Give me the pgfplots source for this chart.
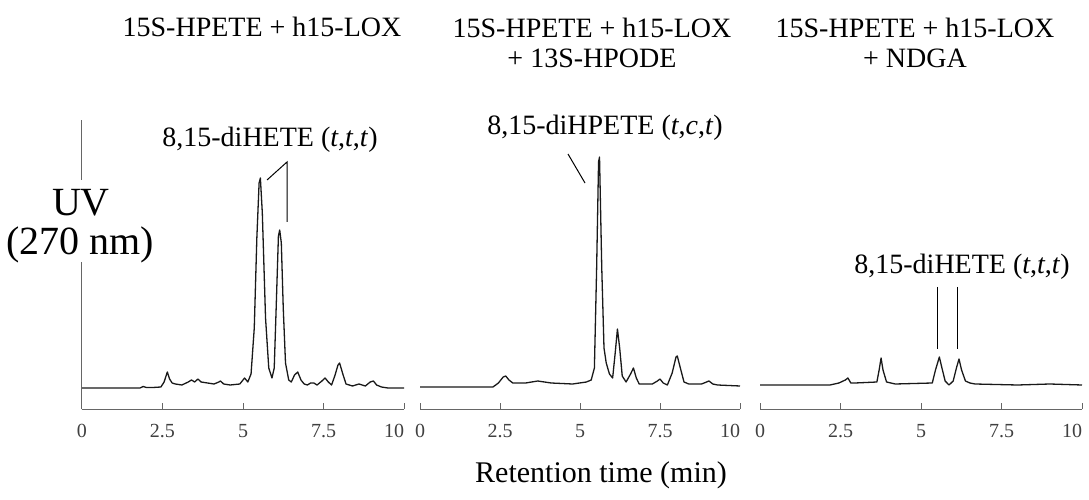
\documentclass[border=0pt]{standalone}
\usepackage{fontspec}
\setmainfont{Liberation Serif}
\usepackage{pgfplots}
\pgfplotsset{compat=1.18}

\pgfplotsset{
  chrom/.style={
    scale only axis, anchor=south west,
    height=144.5pt,
    xmin=0, xmax=10, ymin=-21, ymax=268,
    axis x line*=bottom, axis y line=none,
    clip=false,
    xtick={0,2.5,5,7.5,10},
    xticklabels={0,2.5,5,7.5,\llap{10}\hspace{6pt}},
    ytick=\empty,
    tick align=inside,
    major tick length=3pt,
    axis line style={black!60, line width=0.5pt},
    tick style={black!60, line width=0.5pt},
    xticklabel style={font=\fontsize{10}{11}\selectfont, text=black!75, yshift=-4pt},
    /pgf/number format/assume math mode=true,
  },
  trace/.style={black!90, line width=0.65pt, mark=none, line join=round},
}

\pgfplotstableread{
t v
0 0
1.8 0
1.9 1.5
2.0 0.5
2.2 0.5
2.45 1
2.55 6
2.65 16
2.72 9
2.8 5
2.9 4
3.1 3
3.3 6
3.4 8
3.5 6
3.6 9
3.7 6
3.9 5
4.1 4
4.25 6
4.3 7
4.4 4
4.6 3
4.9 4
5.0 8
5.05 10
5.15 6
5.25 14
5.35 60
5.43 150
5.5 205
5.54 210
5.6 175
5.7 70
5.8 20
5.9 10
5.97 20
6.03 80
6.1 152
6.14 158
6.19 145
6.25 80
6.32 25
6.42 8
6.5 6
6.6 13
6.7 16
6.8 8
6.9 4
7.0 3
7.1 5
7.2 5
7.3 3
7.45 7
7.55 10
7.65 6
7.75 3
7.85 12
7.95 23
8.0 25
8.1 14
8.2 4
8.4 2
8.6 4
8.7 3
8.8 2
8.95 6
9.05 7
9.15 3
9.3 1
9.5 0
10 0
}\tracea

\pgfplotstableread{
t v
0 1
2.28 1
2.45 5
2.6 11
2.68 12
2.78 8
2.9 5
3.3 5
3.68 7
4.1 5
4.77 4
5.2 6
5.35 8
5.45 20
5.52 120
5.58 226
5.61 231
5.68 120
5.75 40
5.82 25
5.92 14
6.02 10
6.1 35
6.17 59
6.24 40
6.32 12
6.44 6
6.58 14
6.67 20
6.76 10
6.85 4
7.26 4
7.42 7
7.5 9
7.6 5
7.73 3
7.88 15
8.0 31
8.04 32
8.12 22
8.25 6
8.4 4
8.8 4
9.03 7
9.15 4
9.3 3
10 2
}\traceb

\pgfplotstableread{
t v
0 3
2.17 3
2.45 5
2.65 8
2.73 10
2.82 5
2.95 5
3.63 6
3.7 18
3.76 30
3.82 18
3.93 6
4.2 4
5.35 5
5.45 18
5.57 31
5.65 20
5.75 7
5.87 3
6.0 7
6.1 20
6.18 29
6.26 18
6.38 7
6.52 5
6.68 4
8.0 3
9.0 4
10 3
}\tracec

\begin{document}
\begin{tikzpicture}
\path[use as bounding box] (0,0) rectangle (544.5pt,249.5pt);

\begin{axis}[chrom, at={(41pt,45pt)}, width=161pt]
  \addplot[trace] table[x=t, y=v] {\tracea};
  \draw[black!60, line width=0.5pt] (axis cs:0,-21) -- (axis cs:0,126);
  \draw[black!60, line width=0.5pt] (axis cs:0,208) -- (axis cs:0,268);
\end{axis}

\begin{axis}[chrom, at={(210pt,45pt)}, width=160pt]
  \addplot[trace] table[x=t, y=v] {\traceb};
\end{axis}

\begin{axis}[chrom, at={(380pt,45pt)}, width=161pt]
  \addplot[trace] table[x=t, y=v] {\tracec};
\end{axis}

% text and pointer lines, placed in reference pixels (x right, y down)
\begin{scope}[x=0.5pt, y=-0.5pt, yshift=249.5pt]
  \node[font=\fontsize{14}{15}\selectfont] at (262,27) {15S-HPETE + h15-LOX};
  \node[font=\fontsize{14}{15}\selectfont, align=center, anchor=north] at (592,11)
    {15S-HPETE + h15-LOX\\+ 13S-HPODE};
  \node[font=\fontsize{14}{15}\selectfont, align=center, anchor=north] at (915,11)
    {15S-HPETE + h15-LOX\\+ NDGA};

  \node[font=\fontsize{20}{22}\selectfont] at (81,203) {UV};
  \node[font=\fontsize{20}{22}\selectfont] at (80,245) {(270 nm)};

  \node[font=\fontsize{15}{17}\selectfont] at (601,475) {Retention time (min)};

  \node[font=\fontsize{14}{15}\selectfont] at (270,140) {8,15-diHETE (\textit{t},\textit{t},\textit{t})};
  \draw[black, line width=0.5pt] (267,180) -- (287,162) -- (287,222);

  \node[font=\fontsize{14}{15}\selectfont] at (605,128) {8,15-diHPETE (\textit{t},\textit{c},\textit{t})};
  \draw[black, line width=0.5pt] (568,154) -- (585,183);

  \node[font=\fontsize{14}{15}\selectfont] at (962,267) {8,15-diHETE (\textit{t},\textit{t},\textit{t})};
  \draw[black, line width=0.5pt] (937,287) -- (937,349);
  \draw[black, line width=0.5pt] (957,287) -- (957,349);
\end{scope}
\end{tikzpicture}
\end{document}
